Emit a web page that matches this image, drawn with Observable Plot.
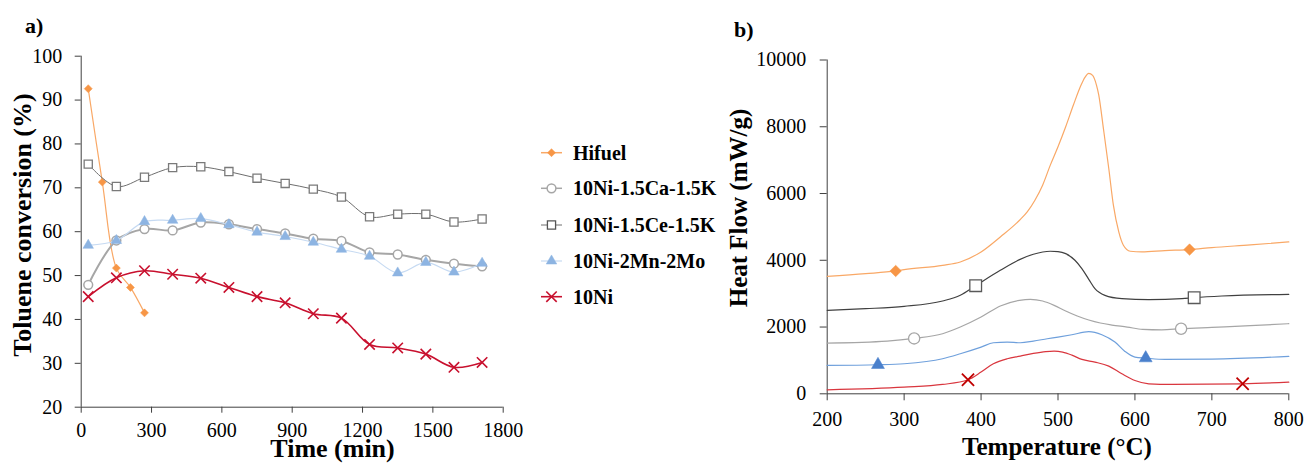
<!DOCTYPE html>
<html><head><meta charset="utf-8">
<script src="https://cdn.jsdelivr.net/npm/d3@7"></script>
<script src="https://cdn.jsdelivr.net/npm/@observablehq/plot@0.6"></script>
<style>
body{margin:0;background:#fff;}
#wrap{position:relative;width:1309px;height:463px;overflow:hidden;background:#fff;}
#wrap > svg{position:absolute;top:0;}
#wrap text{font-family:'Liberation Serif','Times New Roman',Times,serif;}
</style></head><body><div id="wrap"></div>
<script>
// ---------- Panel a data: toluene conversion (%) vs time (min) ----------
const seriesNames = ["Hifuel", "10Ni-1.5Ca-1.5K", "10Ni-1.5Ce-1.5K", "10Ni-2Mn-2Mo", "10Ni"];
const timeHifuel = [30, 90, 150, 210, 270];
const timeMain = [30, 150, 270, 390, 510, 630, 750, 870, 990, 1110, 1230, 1350, 1470, 1590, 1710];
const convHifuel = [92.6, 71.3, 51.7, 47.3, 41.5];
const convCa = [47.9, 58.0, 60.6, 60.3, 62.1, 61.7, 60.6, 59.6, 58.4, 57.9, 55.3, 54.8, 53.6, 52.7, 52.1];
const convCe = [75.4, 70.3, 72.4, 74.6, 74.8, 73.7, 72.2, 71.0, 69.7, 67.9, 63.4, 64.0, 64.0, 62.2, 62.9];
const convMn = [56.9, 58.0, 62.3, 62.6, 63.0, 61.6, 59.9, 58.9, 57.6, 56.0, 54.4, 50.6, 53.0, 50.8, 52.8];
const convNi = [45.2, 49.5, 51.1, 50.3, 49.4, 47.3, 45.2, 43.8, 41.3, 40.3, 34.3, 33.5, 32.1, 29.1, 30.2];
const timeTicks = [0, 300, 600, 900, 1200, 1500, 1800];
const convTicks = [20, 30, 40, 50, 60, 70, 80, 90, 100];

// ---------- Panel b data: heat flow (mW/g) vs temperature (°C) ----------
const tempHifuel = [200, 250, 289, 300, 350, 373, 400, 425, 450, 460, 470, 480, 490, 500, 510, 520, 530, 535, 540, 545, 550, 553, 559, 566, 572, 579, 585, 594, 609, 639, 671, 700, 750, 800];
const flowHifuel = [3520, 3600, 3680, 3720, 3850, 3950, 4250, 4700, 5200, 5450, 5800, 6250, 6850, 7400, 8000, 8650, 9250, 9480, 9600, 9540, 9250, 8950, 7950, 6750, 5650, 4850, 4450, 4270, 4250, 4290, 4320, 4380, 4460, 4550];
const tempCe = [200, 250, 300, 350, 373, 393, 425, 450, 468, 490, 500, 510, 522, 531, 540, 548, 561, 583, 618, 661, 677, 713, 800];
const flowCe = [2500, 2550, 2620, 2780, 2950, 3240, 3700, 4020, 4180, 4270, 4260, 4200, 4000, 3750, 3430, 3150, 2950, 2850, 2820, 2850, 2880, 2930, 2980];
const tempCa = [200, 278, 313, 350, 373, 400, 425, 450, 464, 480, 495, 510, 525, 540, 555, 570, 590, 610, 635, 660, 700, 750, 800];
const flowCa = [1520, 1580, 1660, 1800, 2000, 2300, 2630, 2800, 2830, 2780, 2650, 2480, 2330, 2210, 2120, 2060, 2000, 1930, 1915, 1950, 1990, 2040, 2100];
const tempMn = [200, 266, 300, 350, 373, 400, 416, 434, 451, 468, 486, 500, 518, 540, 557, 574, 587, 600, 614, 639, 700, 800];
const flowMn = [850, 870, 900, 1050, 1200, 1400, 1530, 1550, 1530, 1580, 1650, 1700, 1770, 1860, 1770, 1550, 1270, 1100, 1070, 1030, 1040, 1120];
const tempNi = [200, 300, 350, 383, 400, 416, 434, 451, 468, 484, 495, 506, 518, 531, 548, 566, 583, 600, 618, 648, 740, 800];
const flowNi = [120, 200, 280, 420, 650, 900, 1050, 1130, 1210, 1265, 1280, 1250, 1160, 1030, 950, 830, 600, 400, 300, 280, 300, 350];
// marker positions on the DSC curves
const markTempHifuel = [289, 671], markFlowHifuel = [3680, 4320];
const markTempCe = [393, 677], markFlowCe = [3240, 2880];
const markTempCa = [313, 660], markFlowCa = [1660, 1950];
const markTempMn = [266, 614], markFlowMn = [870, 1070];
const markTempNi = [383, 740], markFlowNi = [420, 300];
const tempTicks = [200, 300, 400, 500, 600, 700, 800];
const flowTicks = [0, 2000, 4000, 6000, 8000, 10000];

// ---------- build ----------
const rows = (xs, ys) => xs.map((x, i) => ({x, y: ys[i]}));
const serif = "'Liberation Serif','Times New Roman',Times,serif";
const axisColor = "#404040";
const fmt = d => String(d);
const wrap = document.getElementById("wrap");

const aHif = rows(timeHifuel, convHifuel), aCa = rows(timeMain, convCa), aCe = rows(timeMain, convCe),
      aMn = rows(timeMain, convMn), aNi = rows(timeMain, convNi);

const chartA = Plot.plot({
  width: 530, height: 463,
  marginLeft: 80.7, marginRight: 27.3, marginTop: 55.7, marginBottom: 56.3,
  style: {fontFamily: serif, fontSize: "20px", color: "#000", background: "transparent", overflow: "visible"},
  x: {domain: [0, 1800]},
  y: {domain: [20, 100]},
  marks: [
    Plot.axisX({ticks: timeTicks, tickFormat: fmt, tickSize: 6, tickPadding: 10, label: null, stroke: axisColor, fontSize: 20, fontFamily: serif}),
    Plot.axisY({ticks: convTicks, tickFormat: fmt, tickSize: 6, tickPadding: 13, label: null, stroke: axisColor, fontSize: 20, fontFamily: serif}),
    Plot.ruleX([0], {stroke: axisColor}),
    Plot.ruleY([20], {stroke: axisColor}),
    Plot.line(aHif, {x: "x", y: "y", stroke: "#F9A866", strokeWidth: 1.2, curve: "catmull-rom"}),
    Plot.dot(aHif, {x: "x", y: "y", symbol: "diamond2", r: 3.6, fill: "#F79646", stroke: "#F79646", strokeWidth: 0.5}),
    Plot.line(aCa, {x: "x", y: "y", stroke: "#A6A6A6", strokeWidth: 2, curve: "catmull-rom"}),
    Plot.dot(aCa, {x: "x", y: "y", symbol: "circle", r: 4.4, fill: "#fff", stroke: "#A6A6A6", strokeWidth: 1.5}),
    Plot.line(aCe, {x: "x", y: "y", stroke: "#6e6e6e", strokeWidth: 1, curve: "catmull-rom"}),
    Plot.dot(aCe, {x: "x", y: "y", symbol: "square", r: 4.6, fill: "#fff", stroke: "#7a7a7a", strokeWidth: 1.3}),
    Plot.line(aMn, {x: "x", y: "y", stroke: "#C6DAF2", strokeWidth: 1.2, curve: "catmull-rom"}),
    Plot.dot(aMn, {x: "x", y: "y", symbol: "triangle", r: 3.9, fill: "#8DB4E2", stroke: "#8DB4E2", strokeWidth: 0.5}),
    Plot.line(aNi, {x: "x", y: "y", stroke: "#C8102E", strokeWidth: 1.6, curve: "catmull-rom"}),
    Plot.dot(aNi, {x: "x", y: "y", symbol: "times", r: 4.8, fill: "none", stroke: "#C8102E", strokeWidth: 1.6})
  ]
});
chartA.style.left = "0px";
wrap.appendChild(chartA);

const bHif = rows(tempHifuel, flowHifuel), bCe = rows(tempCe, flowCe), bCa = rows(tempCa, flowCa),
      bMn = rows(tempMn, flowMn), bNi = rows(tempNi, flowNi);
const mHif = rows(markTempHifuel, markFlowHifuel), mCe = rows(markTempCe, markFlowCe), mCa = rows(markTempCa, markFlowCa),
      mMn = rows(markTempMn, markFlowMn), mNi = rows(markTempNi, markFlowNi);

const chartB = Plot.plot({
  width: 579, height: 463,
  marginLeft: 96.7, marginRight: 20.7, marginTop: 59.5, marginBottom: 69.7,
  style: {fontFamily: serif, fontSize: "20px", color: "#000", background: "transparent", overflow: "visible"},
  x: {domain: [200, 800]},
  y: {domain: [0, 10000]},
  marks: [
    Plot.axisX({ticks: tempTicks, tickFormat: fmt, tickSize: 7, tickPadding: 11, label: null, stroke: axisColor, fontSize: 20, fontFamily: serif}),
    Plot.axisY({ticks: flowTicks, tickFormat: fmt, tickSize: 7, tickPadding: 14, label: null, stroke: axisColor, fontSize: 20, fontFamily: serif}),
    Plot.ruleX([200], {stroke: axisColor}),
    Plot.ruleY([0], {stroke: axisColor}),
    Plot.line(bNi, {x: "x", y: "y", stroke: "#D9363E", strokeWidth: 1.2, curve: "monotone-x"}),
    Plot.line(bMn, {x: "x", y: "y", stroke: "#6FA0DC", strokeWidth: 1.2, curve: "monotone-x"}),
    Plot.line(bCa, {x: "x", y: "y", stroke: "#A6A6A6", strokeWidth: 1.2, curve: "monotone-x"}),
    Plot.line(bCe, {x: "x", y: "y", stroke: "#404040", strokeWidth: 1.2, curve: "monotone-x"}),
    Plot.line(bHif, {x: "x", y: "y", stroke: "#F9A866", strokeWidth: 1.2, curve: "monotone-x"}),
    Plot.dot(mHif, {x: "x", y: "y", symbol: "diamond2", r: 5.2, fill: "#F79646", stroke: "#F79646", strokeWidth: 0.5}),
    Plot.dot(mCe, {x: "x", y: "y", symbol: "square", r: 6.6, fill: "#fff", stroke: "#595959", strokeWidth: 1.3}),
    Plot.dot(mCa, {x: "x", y: "y", symbol: "circle", r: 5.6, fill: "#fff", stroke: "#A6A6A6", strokeWidth: 1.3}),
    Plot.dot(mMn, {x: "x", y: "y", symbol: "triangle", r: 4.8, fill: "#4A80CC", stroke: "#4A80CC", strokeWidth: 0.5}),
    Plot.dot(mNi, {x: "x", y: "y", symbol: "times", r: 5.6, fill: "none", stroke: "#C00000", strokeWidth: 1.8})
  ]
});
chartB.style.left = "730px";
wrap.appendChild(chartB);

// ---------- overlay: panel labels, axis titles, legend ----------
const ov = d3.select(wrap).append("svg")
  .attr("width", 1309).attr("height", 463)
  .style("left", "0px").style("pointer-events", "none")
  .attr("font-family", serif).attr("fill", "#000");

const bold = (x, y, txt, size, anchor = "start", rot = 0) =>
  ov.append("text").attr("transform", `translate(${x},${y}) rotate(${rot})`)
    .attr("text-anchor", anchor).attr("font-weight", "bold").attr("font-size", size).text(txt);

bold(25, 33, "a)", 22);
bold(734, 37, "b)", 22);
bold(31, 225, "Toluene conversion (%)", 26, "middle", -90);
bold(332.5, 457, "Time (min)", 26, "middle");
bold(747, 208, "Heat Flow (mW/g)", 25, "middle", -90);
bold(1057, 455, "Temperature (°C)", 25, "middle");

const legendStyles = [
  {line: "#F9A866", lw: 1.5, sym: d3.symbolDiamond2, r: 3.6, fill: "#F79646", stroke: "#F79646", sw: 0.5},
  {line: "#A6A6A6", lw: 1.5, sym: d3.symbolCircle, r: 4.4, fill: "#fff", stroke: "#A6A6A6", sw: 1.5},
  {line: "#6e6e6e", lw: 1, sym: d3.symbolSquare, r: 4.6, fill: "#fff", stroke: "#555", sw: 1.3},
  {line: "#C6DAF2", lw: 1.2, sym: d3.symbolTriangle, r: 3.9, fill: "#8DB4E2", stroke: "#8DB4E2", sw: 0.5},
  {line: "#C8102E", lw: 1.6, sym: d3.symbolTimes, r: 4.8, fill: "none", stroke: "#C8102E", sw: 1.6}
];
const legendY = [152.7, 188.3, 225, 261, 296.7];
seriesNames.forEach((name, i) => {
  const s = legendStyles[i], y = legendY[i];
  const g = ov.append("g");
  g.append("line").attr("x1", 541).attr("x2", 562).attr("y1", y).attr("y2", y)
    .attr("stroke", s.line).attr("stroke-width", s.lw);
  g.append("path").attr("transform", `translate(551.5,${y})`)
    .attr("d", d3.symbol(s.sym, Math.PI * s.r * s.r)())
    .attr("fill", s.fill).attr("stroke", s.stroke).attr("stroke-width", s.sw);
  g.append("text").attr("x", 573).attr("y", y + 7).attr("font-weight", "bold").attr("font-size", 20).text(name);
});
</script>
</body></html>
